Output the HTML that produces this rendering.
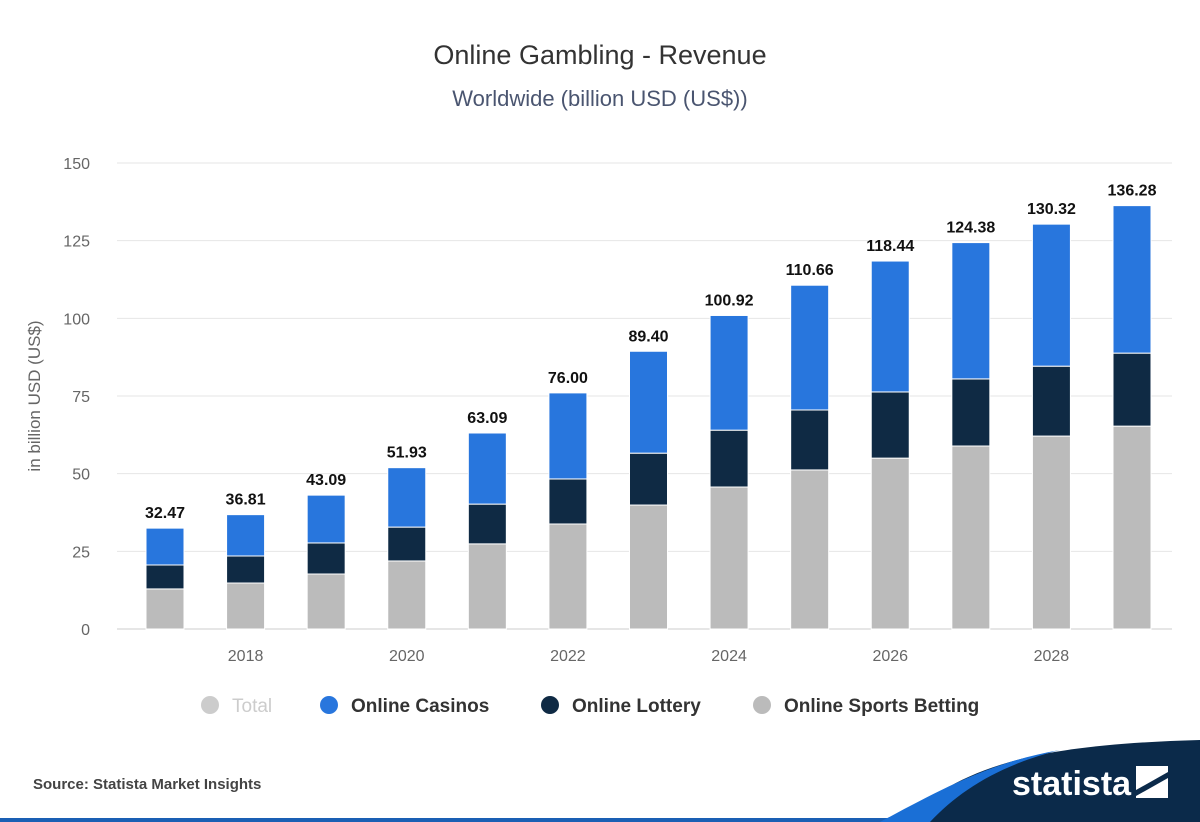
<!DOCTYPE html>
<html><head><meta charset="utf-8">
<style>
body{margin:0;background:#fff;font-family:"Liberation Sans",Arial,sans-serif;}
#wrap{position:relative;width:1200px;height:822px;overflow:hidden;background:#fff;}
</style></head>
<body>
<div id="wrap">
<svg id="chart" width="1200" height="822">
<text x="600" y="64" text-anchor="middle" font-size="27" fill="#333">Online Gambling - Revenue</text>
<text x="600" y="106" text-anchor="middle" font-size="22" fill="#4a5570">Worldwide (billion USD (US$))</text>
<text transform="translate(40,396) rotate(-90)" text-anchor="middle" font-size="17" fill="#666">in billion USD (US$)</text>
<g id="grid"></g><g id="bars"></g><g id="labels"></g>
<g>
<circle cx="210" cy="705" r="9" fill="#ccc"/>
<text x="232" y="712" font-size="19" fill="#ccc">Total</text>
<circle cx="329" cy="705" r="9" fill="#2876dd"/>
<text x="351" y="712" font-size="19" font-weight="bold" fill="#333">Online Casinos</text>
<circle cx="550" cy="705" r="9" fill="#0f2a44"/>
<text x="572" y="712" font-size="19" font-weight="bold" fill="#333">Online Lottery</text>
<circle cx="762" cy="705" r="9" fill="#bbb"/>
<text x="784" y="712" font-size="19" font-weight="bold" fill="#333">Online Sports Betting</text>
</g>
<text x="33" y="789" font-size="15" font-weight="bold" fill="#444">Source: Statista Market Insights</text>
<path d="M0 818 L1200 818 L1200 822 L0 822Z" fill="#1a5fb4"/>
<path d="M900 822 C960 770 1020 745 1200 740 L1200 822Z" fill="#0b2a4a"/>
<path d="M880 822 C940 790 990 762 1060 750 C1000 765 960 790 930 822Z" fill="#1a6fd6"/>
<text x="1012" y="795" font-size="34" font-weight="bold" fill="#fff">statista</text>
<rect x="1136" y="766" width="32" height="32" fill="#fff"/>
<path d="M1136 790 L1168 772 L1168 778 L1136 796Z" fill="#0b2a4a"/>
</svg>
</div>
<script>
const years=[2017,2018,2019,2020,2021,2022,2023,2024,2025,2026,2027,2028,2029];
const sports=[12.9,14.8,17.7,21.9,27.4,33.8,39.9,45.7,51.2,55.0,58.9,62.1,65.3];
const lottery=[7.7,8.7,10.0,10.9,12.8,14.5,16.7,18.3,19.3,21.3,21.6,22.5,23.5];
const totals=[32.47,36.81,43.09,51.93,63.09,76.00,89.40,100.92,110.66,118.44,124.38,130.32,136.28];
const totalLabels=["32.47","36.81","43.09","51.93","63.09","76.00","89.40","100.92","110.66","118.44","124.38","130.32","136.28"];
const yTicks=[0,25,50,75,100,125,150];
const xTickYears=[2018,2020,2022,2024,2026,2028];
const NS="http://www.w3.org/2000/svg";
const x0=117,x1=1172,yBase=629,yTop=163;
const y=v=>yBase-(v/150)*(yBase-yTop);
const firstC=165,lastC=1132;
const step=(lastC-firstC)/(years.length-1);
const xc=yr=>firstC+step*(yr-years[0]);
const bw=38;
function mk(tag,attrs,parent){const e=document.createElementNS(NS,tag);for(const k in attrs)e.setAttribute(k,attrs[k]);parent.appendChild(e);return e;}
const grid=document.getElementById('grid'),bars=document.getElementById('bars'),labels=document.getElementById('labels');
yTicks.forEach(t=>{
 const l=mk('line',{x1:x0,x2:x1,y1:y(t),y2:y(t),stroke:t===0?'#ccc':'#e6e6e6','stroke-width':1},grid);
 
 
 const tx=mk('text',{x:90,y:y(t)+6,'text-anchor':'end','font-size':16,fill:'#666'},grid);
 tx.textContent=t;
 
 
});
xTickYears.forEach(yr=>{
 const tx=mk('text',{x:xc(yr),y:661,'text-anchor':'middle','font-size':16,fill:'#666'},grid);
 tx.textContent=yr;
 
 
});
years.forEach((yr,i)=>{
 const cx=xc(yr),bx=cx-bw/2;
 const casinos=totals[i]-sports[i]-lottery[i];
 const segs=[[0,sports[i],'#bbbbbb','sports'],[sports[i],lottery[i],'#0f2a44','lottery'],[sports[i]+lottery[i],casinos,'#2876dd','casinos']];
 segs.forEach(s=>{
  const r=mk('rect',{x:bx,y:y(s[0]+s[1]),width:bw,height:y(s[0])-y(s[0]+s[1]),fill:s[2],stroke:'#fff','stroke-width':1},bars);
  
  
 });
 const t=mk('text',{x:cx,y:y(totals[i])-10,'text-anchor':'middle','font-size':16,'font-weight':'bold',fill:'#111'},labels);
 t.textContent=totalLabels[i];
 
 
});
</script>
</body></html>
